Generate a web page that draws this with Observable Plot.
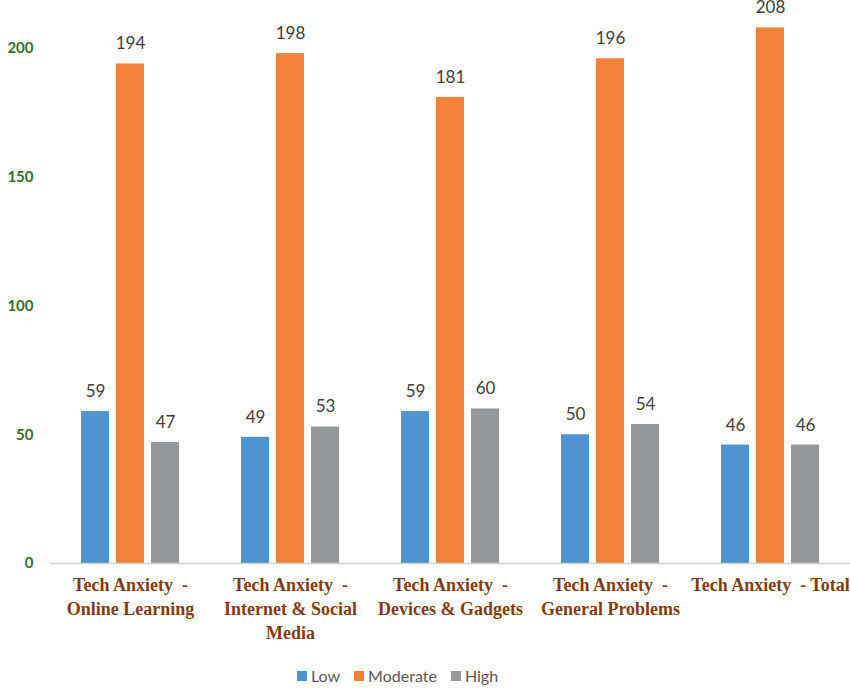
<!DOCTYPE html>
<html>
<head>
<meta charset="utf-8">
<script src="https://cdn.jsdelivr.net/npm/d3@7"></script>
<script src="https://cdn.jsdelivr.net/npm/@observablehq/plot@0.6"></script>
<style>
  body { margin: 0; background: #fff; }
  #chart svg { display: block; overflow: visible; }
  .legend { display: flex; justify-content: center; align-items: center; gap: 14px; padding-right: 55px;
            font-family: Lato, "Open Sans", sans-serif; font-size: 16px; color: #595959; margin-top: 6px; }
  .legend span.sw { display: inline-block; width: 10px; height: 10px; margin-right: 4px; }
  .legend .item { display: flex; align-items: center; }
</style>
</head>
<body>
<div id="chart"></div>
<script>
const categories = [
  "Tech Anxiety  -\nOnline Learning",
  "Tech Anxiety  -\nInternet & Social\nMedia",
  "Tech Anxiety  -\nDevices & Gadgets",
  "Tech Anxiety  -\nGeneral Problems",
  "Tech Anxiety  - Total"
];
const levels = ["Low", "Moderate", "High"];
const lowValues = [59, 49, 59, 50, 46];
const moderateValues = [194, 198, 181, 196, 208];
const highValues = [47, 53, 60, 54, 46];
const yTicks = [0, 50, 100, 150, 200];
const colors = ["#4f94d0", "#f2813a", "#95989a"];

const series = [lowValues, moderateValues, highValues];
const data = [];
categories.forEach((c, i) => {
  levels.forEach((l, j) => data.push({category: c, level: l, value: series[j][i]}));
});

const chart = Plot.plot({
  width: 850,
  height: 660,
  marginLeft: 50,
  marginRight: 0,
  marginTop: 48,
  marginBottom: 97,
  fx: {domain: categories, padding: 0},
  x: {domain: levels, paddingInner: 0.21, paddingOuter: 0.86, axis: null},
  y: {domain: [0, 200]},
  color: {domain: levels, range: colors},
  marks: [
    Plot.axisY({ticks: yTicks, tickSize: 0, tickPadding: 17, fontSize: 15, fontWeight: "bold",
      color: "#3c6b2c", fontFamily: "Lato, sans-serif", label: null}),
    Plot.axisFx({anchor: "bottom", tickSize: 0, tickPadding: 11, fontSize: 18, fontWeight: "bold",
      fontFamily: "Liberation Serif, serif", color: "#843c0c", lineHeight: 1.33, label: null,
      lineAnchor: "top"}),
    Plot.barY(data, {fx: "category", x: "level", y: "value", fill: "level"}),
    Plot.ruleY([0], {stroke: "#d3d3d3", strokeWidth: 1.5}),
    Plot.text(data, {fx: "category", x: "level", y: "value", text: d => String(d.value), dy: -20,
      fill: "#404040", fontSize: 17, fontFamily: "Lato, sans-serif"})
  ]
});
document.getElementById("chart").appendChild(chart);

const legend = document.createElement("div");
legend.className = "legend";
levels.forEach((l, i) => {
  const item = document.createElement("div");
  item.className = "item";
  const sw = document.createElement("span");
  sw.className = "sw";
  sw.style.background = colors[i];
  item.appendChild(sw);
  item.appendChild(document.createTextNode(l));
  legend.appendChild(item);
});
document.body.appendChild(legend);
</script>
</body>
</html>
